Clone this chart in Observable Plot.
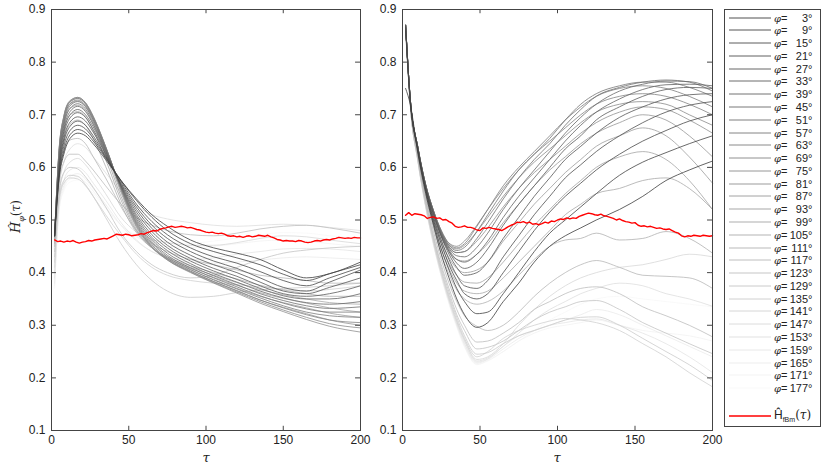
<!DOCTYPE html>
<html><head><meta charset="utf-8">
<script src="https://cdn.jsdelivr.net/npm/d3@7"></script>
<script src="https://cdn.jsdelivr.net/npm/@observablehq/plot@0.6"></script>
<style>
body{margin:0;background:#fff;font-family:"Liberation Sans",Arial,sans-serif;}
#wrap{position:relative;width:830px;height:463px;overflow:hidden;}
.panel{position:absolute;top:0;}
.lab{position:absolute;font-family:"DejaVu Serif","Liberation Serif",serif;color:#222;white-space:nowrap;}
#legend{position:absolute;left:724px;top:9px;width:97px;height:418px;box-sizing:border-box;border:1px solid #444;background:#fff;}
.row{position:absolute;left:0;height:12px;font-size:11px;line-height:12px;color:#222;white-space:nowrap;}
.row svg{position:absolute;left:4px;top:0;}
.row .t{position:absolute;left:49px;top:0;}
.num{display:inline-block;width:25px;text-align:right;}
</style></head><body><div id="wrap"></div>
<script>
const phis = [3,9,15,21,27,33,39,45,51,57,63,69,75,81,87,93,99,105,111,117,123,129,135,141,147,153,159,165,171,177];
const xTicks = [0,50,100,150,200];
const yTicks = [0.1,0.2,0.3,0.4,0.5,0.6,0.7,0.8,0.9];

const tauLeft = [2,5,8,12,17,22,27,35,45,55,65,75,90,105,120,135,150,165,180,200];
const leftH = [
[0.47,0.58,0.625,0.655,0.665,0.66,0.645,0.615,0.575,0.54,0.51,0.488,0.462,0.447,0.437,0.425,0.405,0.39,0.398,0.42],
[0.47,0.585,0.632,0.662,0.672,0.666,0.65,0.618,0.575,0.537,0.505,0.48,0.455,0.44,0.428,0.415,0.397,0.385,0.398,0.415],
[0.47,0.59,0.64,0.67,0.68,0.673,0.655,0.62,0.573,0.53,0.497,0.472,0.447,0.43,0.418,0.402,0.385,0.375,0.39,0.41],
[0.47,0.595,0.648,0.678,0.688,0.68,0.66,0.622,0.57,0.525,0.49,0.465,0.44,0.422,0.408,0.39,0.372,0.365,0.382,0.405],
[0.47,0.60,0.655,0.686,0.696,0.688,0.667,0.625,0.568,0.52,0.484,0.458,0.433,0.415,0.40,0.382,0.365,0.36,0.372,0.39],
[0.47,0.605,0.662,0.694,0.704,0.695,0.672,0.627,0.566,0.515,0.478,0.452,0.427,0.408,0.393,0.375,0.36,0.355,0.36,0.375],
[0.47,0.61,0.668,0.70,0.71,0.70,0.677,0.63,0.565,0.51,0.472,0.447,0.422,0.403,0.387,0.37,0.356,0.35,0.35,0.36],
[0.47,0.615,0.674,0.706,0.716,0.706,0.682,0.632,0.564,0.506,0.467,0.442,0.417,0.398,0.382,0.365,0.352,0.343,0.34,0.345],
[0.47,0.62,0.68,0.712,0.721,0.711,0.686,0.634,0.563,0.502,0.463,0.437,0.413,0.394,0.377,0.36,0.347,0.337,0.332,0.335],
[0.47,0.625,0.685,0.717,0.725,0.715,0.69,0.636,0.562,0.499,0.459,0.433,0.409,0.39,0.373,0.356,0.342,0.331,0.325,0.325],
[0.47,0.63,0.69,0.721,0.728,0.718,0.693,0.638,0.561,0.496,0.456,0.43,0.406,0.386,0.369,0.352,0.337,0.325,0.318,0.315],
[0.47,0.634,0.694,0.724,0.731,0.721,0.695,0.639,0.56,0.494,0.453,0.427,0.403,0.383,0.366,0.348,0.333,0.32,0.31,0.305],
[0.47,0.637,0.697,0.726,0.733,0.723,0.697,0.64,0.559,0.492,0.45,0.425,0.401,0.381,0.363,0.345,0.329,0.315,0.303,0.295],
[0.47,0.638,0.698,0.727,0.733,0.723,0.697,0.64,0.558,0.49,0.449,0.424,0.40,0.38,0.361,0.342,0.326,0.311,0.298,0.287],
[0.47,0.636,0.696,0.725,0.731,0.721,0.695,0.638,0.556,0.488,0.448,0.424,0.402,0.383,0.365,0.348,0.334,0.322,0.31,0.30],
[0.468,0.632,0.69,0.72,0.726,0.716,0.69,0.633,0.552,0.486,0.448,0.426,0.405,0.387,0.37,0.355,0.343,0.333,0.323,0.315],
[0.465,0.625,0.682,0.712,0.718,0.708,0.682,0.625,0.545,0.482,0.447,0.427,0.408,0.391,0.376,0.362,0.351,0.342,0.333,0.325],
[0.462,0.615,0.67,0.70,0.706,0.696,0.67,0.615,0.538,0.479,0.447,0.428,0.41,0.395,0.381,0.368,0.358,0.35,0.343,0.34],
[0.458,0.60,0.652,0.682,0.69,0.68,0.655,0.602,0.53,0.476,0.447,0.43,0.413,0.40,0.388,0.376,0.367,0.36,0.355,0.355],
[0.455,0.585,0.63,0.652,0.655,0.645,0.62,0.58,0.525,0.48,0.455,0.44,0.425,0.415,0.405,0.395,0.39,0.385,0.38,0.38],
[0.45,0.57,0.61,0.625,0.625,0.612,0.595,0.565,0.53,0.505,0.49,0.48,0.472,0.47,0.475,0.483,0.488,0.49,0.485,0.475],
[0.44,0.555,0.59,0.60,0.597,0.582,0.562,0.525,0.475,0.44,0.415,0.40,0.39,0.395,0.41,0.425,0.437,0.443,0.447,0.45],
[0.43,0.545,0.575,0.585,0.583,0.567,0.545,0.505,0.455,0.415,0.385,0.365,0.353,0.355,0.362,0.367,0.37,0.372,0.375,0.38],
[0.42,0.54,0.57,0.58,0.578,0.565,0.545,0.51,0.47,0.435,0.41,0.395,0.385,0.38,0.377,0.373,0.368,0.365,0.368,0.375],
[0.41,0.55,0.59,0.61,0.617,0.605,0.585,0.55,0.505,0.477,0.463,0.457,0.452,0.452,0.457,0.465,0.47,0.468,0.462,0.455],
[0.40,0.56,0.61,0.635,0.645,0.638,0.62,0.59,0.553,0.527,0.51,0.502,0.495,0.49,0.488,0.49,0.492,0.49,0.486,0.48],
[0.39,0.53,0.575,0.595,0.60,0.59,0.57,0.538,0.495,0.462,0.44,0.43,0.425,0.428,0.435,0.44,0.445,0.446,0.445,0.44],
[0.38,0.53,0.565,0.583,0.588,0.578,0.56,0.53,0.49,0.46,0.44,0.428,0.42,0.418,0.42,0.424,0.428,0.43,0.428,0.425],
[0.375,0.52,0.56,0.578,0.582,0.572,0.555,0.525,0.49,0.468,0.456,0.45,0.448,0.45,0.455,0.46,0.462,0.46,0.455,0.45],
[0.37,0.52,0.555,0.572,0.576,0.566,0.55,0.522,0.49,0.47,0.46,0.456,0.456,0.46,0.466,0.472,0.476,0.475,0.47,0.465]
];

const tauRight = [2,5,10,15,20,25,30,35,40,48,55,65,75,85,95,105,115,125,140,155,170,185,200];
const rightH = [
[0.75,0.72,0.625,0.55,0.49,0.435,0.39,0.35,0.32,0.296,0.305,0.345,0.38,0.42,0.45,0.47,0.485,0.50,0.52,0.545,0.575,0.595,0.612],
[0.86,0.725,0.63,0.555,0.495,0.445,0.405,0.37,0.345,0.322,0.325,0.36,0.40,0.44,0.475,0.50,0.525,0.55,0.585,0.61,0.628,0.645,0.66],
[0.865,0.728,0.632,0.558,0.50,0.455,0.415,0.385,0.36,0.35,0.36,0.40,0.44,0.48,0.515,0.545,0.57,0.595,0.625,0.65,0.67,0.688,0.70],
[0.868,0.73,0.634,0.56,0.505,0.462,0.425,0.395,0.375,0.37,0.385,0.43,0.47,0.51,0.545,0.58,0.605,0.63,0.66,0.685,0.705,0.718,0.725],
[0.87,0.73,0.635,0.562,0.51,0.468,0.435,0.41,0.395,0.40,0.42,0.465,0.505,0.545,0.58,0.615,0.64,0.665,0.695,0.715,0.73,0.738,0.74],
[0.87,0.73,0.635,0.563,0.512,0.47,0.44,0.418,0.408,0.42,0.445,0.49,0.53,0.565,0.60,0.635,0.66,0.69,0.715,0.735,0.748,0.752,0.75],
[0.87,0.73,0.636,0.564,0.514,0.472,0.443,0.425,0.42,0.435,0.46,0.505,0.545,0.58,0.615,0.65,0.68,0.705,0.73,0.748,0.757,0.758,0.755],
[0.87,0.73,0.636,0.565,0.515,0.474,0.446,0.432,0.43,0.448,0.475,0.52,0.56,0.595,0.63,0.665,0.695,0.72,0.745,0.758,0.764,0.763,0.75],
[0.87,0.73,0.637,0.566,0.516,0.476,0.449,0.438,0.44,0.465,0.495,0.54,0.58,0.615,0.645,0.68,0.71,0.735,0.752,0.762,0.766,0.762,0.745],
[0.87,0.73,0.637,0.566,0.517,0.478,0.452,0.442,0.448,0.478,0.51,0.555,0.595,0.625,0.655,0.69,0.72,0.74,0.755,0.762,0.762,0.752,0.735],
[0.87,0.73,0.637,0.567,0.518,0.48,0.455,0.447,0.455,0.488,0.52,0.565,0.60,0.63,0.66,0.69,0.715,0.735,0.75,0.755,0.75,0.735,0.715],
[0.87,0.73,0.637,0.567,0.518,0.48,0.456,0.45,0.46,0.49,0.52,0.56,0.595,0.625,0.65,0.675,0.70,0.72,0.735,0.74,0.735,0.72,0.70],
[0.87,0.73,0.636,0.566,0.517,0.478,0.452,0.445,0.452,0.478,0.505,0.545,0.58,0.61,0.635,0.66,0.685,0.705,0.72,0.725,0.72,0.70,0.68],
[0.87,0.73,0.636,0.565,0.515,0.475,0.448,0.438,0.44,0.46,0.485,0.525,0.56,0.59,0.615,0.64,0.665,0.685,0.705,0.715,0.71,0.69,0.665],
[0.87,0.73,0.635,0.563,0.512,0.47,0.44,0.425,0.422,0.435,0.455,0.495,0.53,0.565,0.595,0.62,0.645,0.665,0.685,0.70,0.69,0.66,0.62],
[0.87,0.728,0.632,0.558,0.505,0.46,0.428,0.408,0.40,0.405,0.42,0.46,0.495,0.53,0.56,0.59,0.615,0.64,0.66,0.675,0.66,0.62,0.57],
[0.87,0.727,0.63,0.555,0.50,0.453,0.418,0.395,0.382,0.38,0.39,0.42,0.455,0.49,0.52,0.55,0.575,0.60,0.62,0.63,0.615,0.575,0.52],
[0.87,0.726,0.628,0.55,0.493,0.445,0.408,0.38,0.365,0.36,0.365,0.39,0.42,0.45,0.48,0.51,0.53,0.55,0.56,0.575,0.58,0.56,0.52],
[0.87,0.725,0.625,0.545,0.486,0.436,0.397,0.367,0.35,0.34,0.345,0.365,0.395,0.425,0.45,0.462,0.465,0.475,0.462,0.465,0.478,0.465,0.437],
[0.87,0.724,0.62,0.54,0.478,0.425,0.38,0.345,0.318,0.298,0.29,0.30,0.325,0.355,0.38,0.40,0.415,0.423,0.41,0.395,0.393,0.39,0.37],
[0.87,0.722,0.617,0.535,0.47,0.415,0.37,0.33,0.30,0.268,0.27,0.285,0.305,0.33,0.345,0.36,0.37,0.373,0.36,0.335,0.318,0.30,0.278],
[0.87,0.721,0.615,0.532,0.466,0.41,0.363,0.32,0.29,0.255,0.258,0.27,0.29,0.31,0.325,0.335,0.345,0.347,0.33,0.305,0.285,0.265,0.246],
[0.87,0.72,0.613,0.53,0.462,0.405,0.357,0.315,0.28,0.245,0.248,0.265,0.28,0.29,0.30,0.31,0.315,0.316,0.30,0.275,0.25,0.225,0.195],
[0.87,0.72,0.612,0.528,0.46,0.402,0.353,0.31,0.275,0.24,0.25,0.275,0.29,0.30,0.308,0.313,0.31,0.305,0.29,0.265,0.24,0.21,0.183],
[0.87,0.72,0.612,0.527,0.458,0.40,0.35,0.307,0.272,0.235,0.24,0.265,0.30,0.33,0.355,0.375,0.39,0.40,0.41,0.415,0.425,0.435,0.43],
[0.87,0.72,0.611,0.526,0.456,0.398,0.348,0.305,0.27,0.232,0.238,0.26,0.285,0.31,0.33,0.345,0.36,0.37,0.38,0.375,0.36,0.35,0.336],
[0.87,0.72,0.61,0.525,0.455,0.396,0.346,0.302,0.266,0.23,0.236,0.26,0.28,0.29,0.30,0.305,0.31,0.312,0.30,0.285,0.265,0.24,0.21],
[0.87,0.72,0.61,0.524,0.454,0.394,0.344,0.30,0.263,0.228,0.235,0.255,0.275,0.29,0.30,0.31,0.32,0.33,0.32,0.30,0.28,0.26,0.24],
[0.87,0.72,0.61,0.523,0.453,0.393,0.342,0.298,0.26,0.226,0.233,0.25,0.27,0.285,0.295,0.30,0.305,0.31,0.30,0.29,0.285,0.28,0.27],
[0.87,0.72,0.61,0.522,0.452,0.392,0.34,0.296,0.258,0.225,0.232,0.25,0.27,0.29,0.31,0.325,0.34,0.35,0.355,0.35,0.345,0.34,0.335]
];

const tauRed = d3.range(2, 201, 2);
const redLeft = [
0.462,0.459,0.460,0.458,0.460,0.459,0.461,0.458,0.456,0.458,
0.459,0.461,0.460,0.462,0.463,0.464,0.465,0.464,0.467,0.470,
0.473,0.472,0.471,0.473,0.472,0.470,0.471,0.472,0.474,0.473,
0.476,0.478,0.480,0.479,0.482,0.484,0.485,0.487,0.488,0.486,
0.487,0.488,0.487,0.485,0.486,0.484,0.482,0.481,0.479,0.477,
0.476,0.477,0.475,0.474,0.475,0.473,0.470,0.469,0.470,0.468,
0.469,0.467,0.469,0.470,0.468,0.469,0.471,0.470,0.469,0.471,
0.468,0.466,0.463,0.462,0.460,0.461,0.460,0.460,0.459,0.461,
0.460,0.458,0.457,0.458,0.460,0.461,0.460,0.462,0.463,0.462,
0.464,0.465,0.467,0.466,0.465,0.466,0.465,0.467,0.466,0.466];
const redRight = [
0.509,0.514,0.509,0.512,0.511,0.510,0.508,0.503,0.505,0.506,
0.503,0.504,0.500,0.501,0.497,0.494,0.488,0.486,0.487,0.489,
0.486,0.486,0.484,0.481,0.480,0.485,0.484,0.486,0.484,0.483,
0.482,0.480,0.483,0.487,0.490,0.492,0.496,0.495,0.497,0.494,
0.496,0.492,0.493,0.491,0.493,0.496,0.494,0.498,0.497,0.500,
0.502,0.501,0.504,0.502,0.504,0.503,0.507,0.509,0.511,0.513,
0.512,0.510,0.509,0.511,0.508,0.507,0.505,0.503,0.500,0.502,
0.499,0.497,0.496,0.494,0.495,0.490,0.488,0.489,0.487,0.488,
0.486,0.484,0.485,0.483,0.482,0.483,0.480,0.477,0.475,0.470,
0.468,0.470,0.469,0.471,0.470,0.469,0.471,0.470,0.469,0.470];

const grayRange = ["#3c3c3c", "#f8f8f8"];
const colorOpts = {type: "linear", domain: [3, 177], range: grayRange};

function tidy(curves, taus) {
  const out = [];
  for (let i = phis.length - 1; i >= 0; i--) {
    curves[i].forEach((h, j) => out.push({phi: phis[i], tau: taus[j], h}));
  }
  return out;
}

function panel(curves, taus, red, width, marginLeft, marginRight) {
  const redData = red.map((h, j) => ({tau: tauRed[j], h}));
  return Plot.plot({
    width, height: 463, marginLeft, marginRight, marginTop: 9, marginBottom: 33,
    style: "background:transparent;overflow:visible;font-family:'Liberation Sans',Arial,sans-serif;color:#222;",
    x: {domain: [0, 200]},
    y: {domain: [0.1, 0.9]},
    color: colorOpts,
    marks: [
      Plot.line(tidy(curves, taus), {x: "tau", y: "h", z: "phi", stroke: "phi", strokeWidth: 0.8, curve: "monotone-x"}),
      Plot.line(redData, {x: "tau", y: "h", stroke: "#ff0000", strokeWidth: 1.4}),
      Plot.ruleY(yTicks, {x1: 0, x2: 3.2, stroke: "#444"}),
      Plot.ruleY(yTicks, {x1: 196.8, x2: 200, stroke: "#444"}),
      Plot.ruleX(xTicks, {y1: 0.1, y2: 0.108, stroke: "#444"}),
      Plot.ruleX(xTicks, {y1: 0.892, y2: 0.9, stroke: "#444"}),
      Plot.axisY(yTicks, {tickSize: 0, tickPadding: 6, tickFormat: d3.format(".1f"), fontSize: 12, label: null}),
      Plot.axisX(xTicks, {tickSize: 0, tickPadding: 5, fontSize: 12, label: null}),
      Plot.frame({stroke: "#444"})
    ]
  });
}

const wrap = document.getElementById("wrap");
function place(node, left) {
  const d = document.createElement("div");
  d.className = "panel";
  d.style.left = left + "px";
  d.appendChild(node);
  wrap.appendChild(d);
}
place(panel(leftH, tauLeft, redLeft, 365, 51, 5), 0);
place(panel(rightH, tauRight, redRight, 356, 42, 4), 360);

// axis labels
function label(html, left, top, rotate) {
  const d = document.createElement("div");
  d.className = "lab";
  d.innerHTML = html;
  wrap.appendChild(d);
  const w = d.offsetWidth, h = d.offsetHeight;
  d.style.left = (left - w / 2) + "px";
  d.style.top = (top - h / 2) + "px";
  if (rotate) d.style.transform = "rotate(-90deg)";
}
label('<i style="font-size:13px">Ĥ</i><sub style="font-size:8px"><i>φ</i></sub><span style="font-size:12px">(<i>τ</i>)</span>', 15, 216, true);
label('<i style="font-size:13px">τ</i>', 206, 456, false);
label('<i style="font-size:13px">τ</i>', 557, 456, false);

// legend
const colorScale = Plot.scale({color: colorOpts});
const legend = document.createElement("div");
legend.id = "legend";
wrap.appendChild(legend);
phis.forEach((phi, i) => {
  const r = document.createElement("div");
  r.className = "row";
  r.style.top = (17.5 + i * 12.78 - 9 - 1 - 6) + "px";
  r.style.width = "95px";
  r.innerHTML = `<svg width="42" height="12"><line x1="0" x2="42" y1="6" y2="6" stroke="${colorScale.apply(phi)}" stroke-width="0.9"/></svg><span class="t"><i style="font-family:'DejaVu Serif',serif;font-size:10px">φ</i>=<span class="num">${phi}°</span></span>`;
  legend.appendChild(r);
});
const rr = document.createElement("div");
rr.className = "row";
rr.style.top = (416 - 9 - 1 - 8) + "px";
rr.style.height = "16px";
rr.style.width = "95px";
rr.innerHTML = `<svg width="42" height="16"><line x1="0" x2="42" y1="8" y2="8" stroke="#ff0000" stroke-width="1.4"/></svg><span class="t" style="top:1px;font-size:12px">Ĥ<sub style="font-size:7px">fBm</sub><span style="font-family:'DejaVu Serif',serif">(<i>τ</i>)</span></span>`;
legend.appendChild(rr);
</script></body></html>
